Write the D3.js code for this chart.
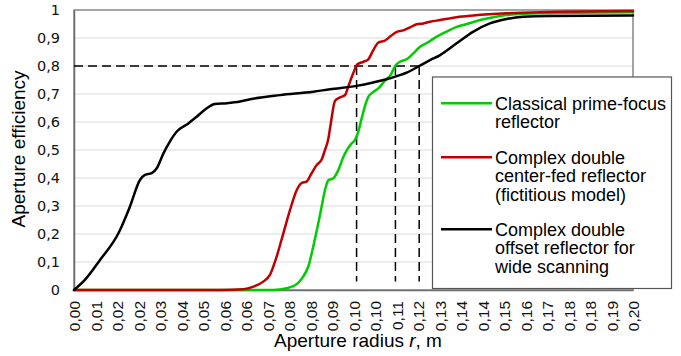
<!DOCTYPE html>
<html>
<head>
<meta charset="utf-8">
<script src="https://cdn.jsdelivr.net/npm/d3@7"></script>
<style>
  html, body { margin: 0; padding: 0; background: #fff; }
  svg { display: block; }
</style>
</head>
<body>
<svg id="chart" width="681" height="356"></svg>
<script>
// Aperture efficiency vs. aperture radius r (m) for three reflector designs.
const seriesNames = [
  ["Classical prime-focus", "reflector"],
  ["Complex double", "center-fed reflector", "(fictitious model)"],
  ["Complex double", "offset reflector for", "wide scanning"]
];
const seriesColors = ["#00cc00", "#c00000", "#000000"];

// [radius m, efficiency]
const primeFocus = [
  [0, 0], [0.0713, 0], [0.0761, 0.006], [0.0797, 0.021], [0.082, 0.048],
  [0.0838, 0.083], [0.0856, 0.155], [0.0874, 0.238], [0.0886, 0.298],
  [0.0898, 0.357], [0.091, 0.392], [0.0928, 0.399], [0.0946, 0.429],
  [0.0964, 0.476], [0.0978, 0.502], [0.0992, 0.522], [0.1005, 0.535],
  [0.1017, 0.565], [0.1029, 0.612], [0.1041, 0.657], [0.1053, 0.69],
  [0.1071, 0.707], [0.1089, 0.72], [0.1113, 0.748], [0.1131, 0.765],
  [0.1151, 0.803], [0.1166, 0.815], [0.119, 0.824], [0.1214, 0.845],
  [0.1238, 0.869], [0.1262, 0.882], [0.1298, 0.905], [0.1333, 0.923],
  [0.1369, 0.94], [0.1405, 0.95], [0.1453, 0.964], [0.15, 0.974],
  [0.1548, 0.982], [0.1667, 0.988], [0.2, 0.992]
];
const centerFed = [
  [0, 0], [0.0522, 0], [0.0606, 0.0025], [0.0642, 0.012], [0.0677, 0.03],
  [0.0701, 0.054], [0.0725, 0.119], [0.0749, 0.2025], [0.0773, 0.286],
  [0.0797, 0.357], [0.0815, 0.383], [0.0832, 0.387], [0.085, 0.417],
  [0.0868, 0.446], [0.0886, 0.466], [0.0898, 0.5], [0.091, 0.54],
  [0.0918, 0.59], [0.0934, 0.676], [0.0952, 0.688], [0.097, 0.697],
  [0.0981, 0.726], [0.0999, 0.774], [0.1014, 0.806], [0.1035, 0.815],
  [0.1053, 0.824], [0.1071, 0.857], [0.1089, 0.884], [0.1113, 0.891],
  [0.1131, 0.905], [0.1155, 0.922], [0.1178, 0.927], [0.1202, 0.938],
  [0.1226, 0.949], [0.125, 0.952], [0.1274, 0.958], [0.131, 0.964],
  [0.1369, 0.974], [0.1429, 0.98], [0.1548, 0.988], [0.1667, 0.992],
  [0.2, 0.996]
];
const offsetWide = [
  [0, 0], [0.0039, 0.036], [0.0093, 0.107], [0.0159, 0.2025], [0.02, 0.2975],
  [0.0236, 0.393], [0.0254, 0.411], [0.0278, 0.417], [0.0296, 0.435],
  [0.032, 0.488], [0.0343, 0.53], [0.0367, 0.565], [0.0409, 0.595],
  [0.0439, 0.619], [0.0475, 0.649], [0.0504, 0.664], [0.0546, 0.667],
  [0.0594, 0.673], [0.063, 0.681], [0.0737, 0.696], [0.0856, 0.708],
  [0.0916, 0.717], [0.1011, 0.729], [0.107, 0.741], [0.113, 0.756],
  [0.119, 0.776], [0.1235, 0.8], [0.1274, 0.821], [0.131, 0.839],
  [0.1369, 0.881], [0.1429, 0.923], [0.1488, 0.952], [0.1548, 0.968],
  [0.1608, 0.976], [0.17, 0.979], [0.2, 0.98]
];
const series = [primeFocus, centerFed, offsetWide];

// Efficiency threshold and the radii where each design reaches it
const threshold = 0.8;
const thresholdRadii = [0.1011, 0.115, 0.1235];

const xTickLabels = ["0,00","0,01","0,02","0,02","0,03","0,04","0,05","0,06","0,06",
  "0,07","0,08","0,08","0,09","0,10","0,10","0,11","0,12","0,13","0,14","0,14",
  "0,15","0,16","0,17","0,18","0,18","0,19","0,20"];
const yTicks = [0, 0.1, 0.2, 0.3, 0.4, 0.5, 0.6, 0.7, 0.8, 0.9, 1];
const yTickLabels = ["0","0,1","0,2","0,3","0,4","0,5","0,6","0,7","0,8","0,9","1"];

const plot = { left: 74, right: 633, top: 10, bottom: 290 };
const svg = d3.select("#chart");

const x = d3.scaleLinear().domain([0, 0.2]).range([plot.left, plot.right]);
const y = d3.scaleLinear().domain([0, 1]).range([plot.bottom, plot.top]);

// Horizontal gridlines
svg.append("g")
  .selectAll("line")
  .data(yTicks.filter(v => v > 0 && v < 1))
  .join("line")
  .attr("x1", plot.left).attr("x2", plot.right)
  .attr("y1", d => y(d)).attr("y2", d => y(d))
  .attr("stroke", "#d9d9d9").attr("stroke-width", 1);

// Plot frame
svg.append("rect")
  .attr("x", plot.left).attr("y", plot.top)
  .attr("width", plot.right - plot.left).attr("height", plot.bottom - plot.top)
  .attr("fill", "none").attr("stroke", "#868686").attr("stroke-width", 1.5);

// Y axis
const yAxis = d3.axisLeft(y)
  .tickValues(yTicks)
  .tickFormat((d, i) => yTickLabels[i])
  .tickSize(0).tickPadding(14);
const gy = svg.append("g").attr("transform", `translate(${plot.left},0)`).call(yAxis);
gy.select(".domain").attr("stroke", "#6e6e6e").attr("stroke-width", 1.5);
gy.selectAll("text")
  .attr("font-family", "DejaVu Sans, sans-serif")
  .attr("font-size", 14.5).attr("fill", "#111");

// X axis: evenly spaced category-style labels
const xTickVals = xTickLabels.map((_, i) => i * 0.2 / (xTickLabels.length - 1));
const xAxis = d3.axisBottom(x)
  .tickValues(xTickVals)
  .tickFormat((d, i) => xTickLabels[i])
  .tickSize(0).tickPadding(0);
const gx = svg.append("g").attr("transform", `translate(0,${plot.bottom})`).call(xAxis);
gx.select(".domain").attr("stroke", "#6e6e6e").attr("stroke-width", 1.5);
gx.selectAll("text")
  .attr("font-family", "Liberation Sans, Arial, sans-serif")
  .attr("font-size", 15.5).attr("fill", "#111")
  .attr("text-anchor", "end")
  .attr("transform", "translate(0,11) rotate(-90)")
  .attr("x", 0).attr("y", 0).attr("dy", "0.36em");

// Threshold guide lines
const guides = svg.append("g")
  .attr("stroke", "#000").attr("stroke-width", 1.5)
  .attr("stroke-dasharray", "9,5").attr("fill", "none");
guides.append("line")
  .attr("x1", x(0)).attr("x2", x(d3.max(thresholdRadii)))
  .attr("y1", y(threshold)).attr("y2", y(threshold));
guides.selectAll("line.v")
  .data(thresholdRadii)
  .join("line").attr("class", "v")
  .attr("x1", d => x(d)).attr("x2", d => x(d))
  .attr("y1", y(threshold)).attr("y2", y(0.03));

// Curves
const line = d3.line()
  .x(d => x(d[0])).y(d => y(d[1]))
  .curve(d3.curveMonotoneX);
svg.append("g")
  .selectAll("path")
  .data(series)
  .join("path")
  .attr("d", line)
  .attr("fill", "none")
  .attr("stroke", (d, i) => seriesColors[i])
  .attr("stroke-width", 2.5)
  .attr("stroke-linejoin", "round")
  .attr("stroke-linecap", "round");

// Axis titles
svg.append("text")
  .attr("transform", `translate(25,149) rotate(-90)`)
  .attr("text-anchor", "middle")
  .attr("font-family", "Liberation Sans, Arial, sans-serif")
  .attr("font-size", 19).attr("fill", "#000")
  .text("Aperture efficiency");

const xTitle = svg.append("text")
  .attr("x", 358).attr("y", 347)
  .attr("text-anchor", "middle")
  .attr("font-family", "Liberation Sans, Arial, sans-serif")
  .attr("font-size", 19).attr("fill", "#000");
xTitle.append("tspan").text("Aperture radius ");
xTitle.append("tspan").attr("font-style", "italic").text("r");
xTitle.append("tspan").text(", m");

// Legend
const legend = { x: 432.5, y: 77, w: 239, h: 211.5 };
const lg = svg.append("g");
lg.append("rect")
  .attr("x", legend.x).attr("y", legend.y)
  .attr("width", legend.w).attr("height", legend.h)
  .attr("fill", "#fff").attr("stroke", "#555").attr("stroke-width", 1.2);

const itemTops = [103.3, 157.3, 229.3];
const lineGap = 18.5;
seriesNames.forEach((lines, i) => {
  const g = lg.append("g").attr("transform", `translate(0,${itemTops[i]})`);
  g.append("line")
    .attr("x1", 441).attr("x2", 492).attr("y1", 0).attr("y2", 0)
    .attr("stroke", seriesColors[i]).attr("stroke-width", 2.5);
  const t = g.append("text")
    .attr("font-family", "Liberation Sans, Arial, sans-serif")
    .attr("font-size", 18).attr("fill", "#000");
  lines.forEach((s, k) => {
    t.append("tspan").attr("x", 495).attr("y", 6.3 + k * lineGap).text(s);
  });
});
</script>
</body>
</html>
